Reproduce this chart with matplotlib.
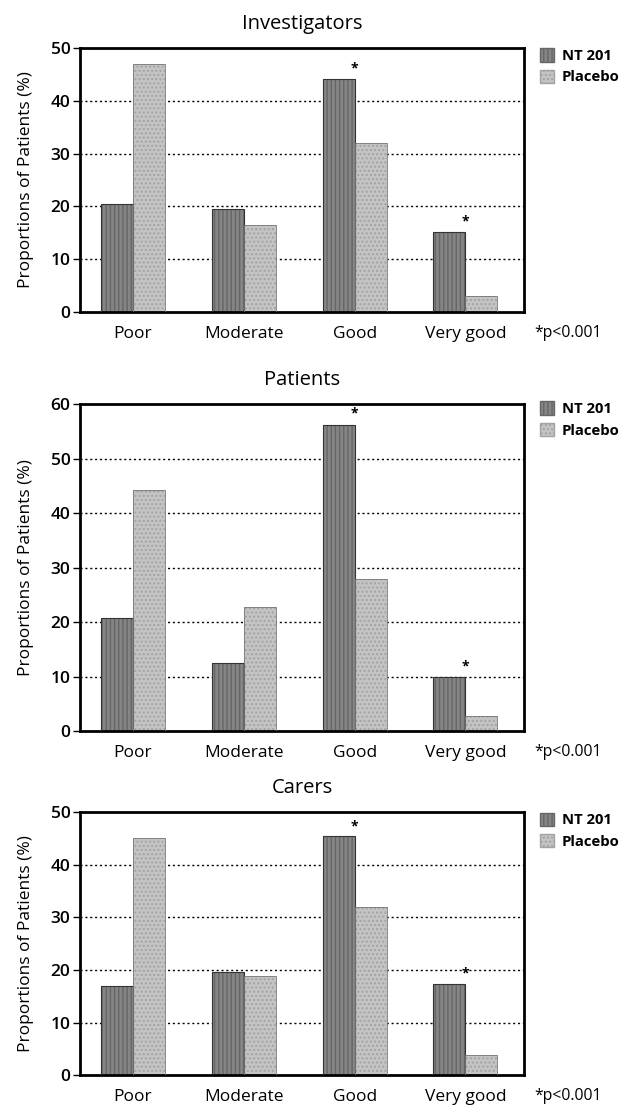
import numpy as np
import matplotlib
matplotlib.use("Agg")
import matplotlib.pyplot as plt
from matplotlib.patches import Patch

plt.rcParams['font.family'] = ['Open Sans', 'DejaVu Sans']

categories = ["Poor", "Moderate", "Good", "Very good"]
titles = ["Investigators", "Patients", "Carers"]
nt201 = [
    [20.5, 19.6, 44.2, 15.2],
    [20.7, 12.5, 56.3, 9.9],
    [17.0, 19.7, 45.4, 17.4],
]
placebo = [
    [47.0, 16.4, 32.1, 3.0],
    [44.2, 22.8, 28.0, 2.8],
    [45.2, 18.8, 31.9, 3.8],
]
ymax = [50, 60, 50]
signif = [[2, 3], [2, 3], [2, 3]]   # groups marked with *

nt_col = "#858585"
pl_col = "#c4c4c4"

fig = plt.figure(figsize=(6.19, 11.05), dpi=100)
# [left, bottom, width, height] in figure fractions
boxes = [
    [0.1292, 0.7176, 0.7173, 0.2389],
    [0.1292, 0.3385, 0.7173, 0.2955],
    [0.1292, 0.0269, 0.7173, 0.2380],
]

x = np.arange(len(categories))
w = 0.289

for i in range(3):
    ax = fig.add_axes(boxes[i])
    ax.bar(x - w/2, nt201[i], w, color=nt_col, hatch="||||", edgecolor="#666666",
           linewidth=0, zorder=2)
    ax.bar(x + w/2, placebo[i], w, color=pl_col, hatch="....", edgecolor="#a3a3a3",
           linewidth=0, zorder=2)
    ax.bar(x - w/2, nt201[i], w, fill=False, edgecolor="#333333", linewidth=0.8, zorder=3)
    ax.bar(x + w/2, placebo[i], w, fill=False, edgecolor="#777777", linewidth=0.6, zorder=3)

    for g in signif[i]:
        ax.text(x[g], nt201[i][g] + ymax[i] * 0.012, "*", ha="center", va="bottom",
                fontsize=10, fontweight="bold")

    ax.set_xlim(-0.478, 3.528)
    ax.set_ylim(0, ymax[i])
    ax.set_yticks(np.arange(0, ymax[i] + 1, 10))
    ax.set_xticks(x)
    ax.set_xticklabels(categories, fontsize=12.5)
    ax.tick_params(axis="x", length=0, pad=10)
    ax.tick_params(axis="y", length=5, width=1, pad=2, labelsize=12.5)
    for t in ax.get_yticklabels():
        t.set_fontweight("semibold")
    for s in ax.spines.values():
        s.set_linewidth(2)
    for v in np.arange(10, ymax[i], 10):
        ax.axhline(v, color="black", linestyle=(0, (1.5, 2)), linewidth=1, zorder=1)

    ax.set_title(titles[i], fontsize=14.5, pad=14)
    ax.set_ylabel("Proportions of Patients (%)", fontsize=12.5, labelpad=12)
    ax.annotate("*p<0.001", xy=(1.023, 0), xycoords="axes fraction",
                xytext=(0, -21), textcoords="offset pixels", ha="left", va="center",
                fontsize=11.3)

    handles = [Patch(facecolor=nt_col, hatch="||||", edgecolor="#666666"),
               Patch(facecolor=pl_col, hatch="....", edgecolor="#a3a3a3")]
    ax.legend(handles, ["NT 201", "Placebo"], loc="upper left",
              bbox_to_anchor=(1.005, 1.05), frameon=False, handlelength=1.0,
              handleheight=1.0, handletextpad=0.5, labelspacing=0.45,
              prop={"weight": "bold", "size": 10.7})

fig.savefig("out.png", dpi=100)
